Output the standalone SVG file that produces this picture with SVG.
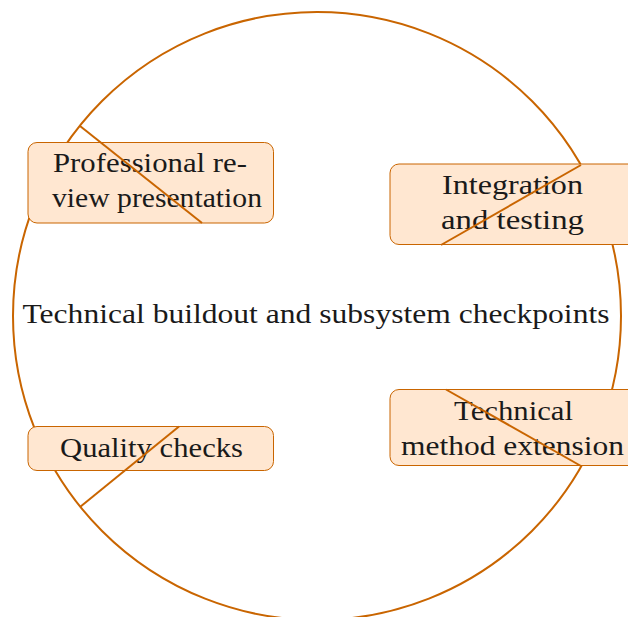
<svg xmlns="http://www.w3.org/2000/svg" width="628" height="617" viewBox="0 0 628 617">
  <style>
    .hub { fill: none; stroke: #c96500; stroke-width: 2; }
    .box { fill: #ffe7d1; stroke: #c96500; stroke-width: 1; }
    .edge { fill: none; stroke: #c96500; stroke-width: 2; }
    text { font-family: "Liberation Serif", "DejaVu Serif", serif; font-size: 27px; fill: #1a1a1a; text-anchor: middle; }
  </style>
  <rect width="628" height="617" fill="#ffffff"/>

  <!-- central circle node -->
  <g id="hub">
    <circle class="hub" cx="317" cy="316" r="304"/>
    <text x="316" y="323" textLength="587" lengthAdjust="spacingAndGlyphs">Technical buildout and subsystem checkpoints</text>
  </g>

  <g id="review">
    <rect class="box" x="28" y="142.5" width="245.5" height="80.5" rx="9"/>
    <text x="150" y="172" textLength="194" lengthAdjust="spacingAndGlyphs">Professional re-</text>
    <text x="157" y="207" textLength="210" lengthAdjust="spacingAndGlyphs">view presentation</text>
  </g>

  <g id="integration">
    <rect class="box" x="390" y="164" width="250" height="80.5" rx="9"/>
    <text x="512.5" y="194" textLength="141" lengthAdjust="spacingAndGlyphs">Integration</text>
    <text x="512.5" y="229" textLength="143" lengthAdjust="spacingAndGlyphs">and testing</text>
  </g>

  <g id="quality">
    <rect class="box" x="28" y="426.5" width="245.5" height="44" rx="9"/>
    <text x="151.5" y="457" textLength="183" lengthAdjust="spacingAndGlyphs">Quality checks</text>
  </g>

  <g id="extension">
    <rect class="box" x="390" y="389.5" width="250" height="76" rx="9"/>
    <text x="513.5" y="420" textLength="119" lengthAdjust="spacingAndGlyphs">Technical</text>
    <text x="512.5" y="455" textLength="223" lengthAdjust="spacingAndGlyphs">method extension</text>
  </g>

  <!-- connectors -->
  <g id="connectors">
    <line class="edge" x1="80" y1="126" x2="202" y2="223"/>
    <line class="edge" x1="581" y1="165" x2="441" y2="245"/>
    <line class="edge" x1="80" y1="507" x2="179" y2="426.5"/>
    <line class="edge" x1="446" y1="389.5" x2="581" y2="466"/>
  </g>
</svg>
